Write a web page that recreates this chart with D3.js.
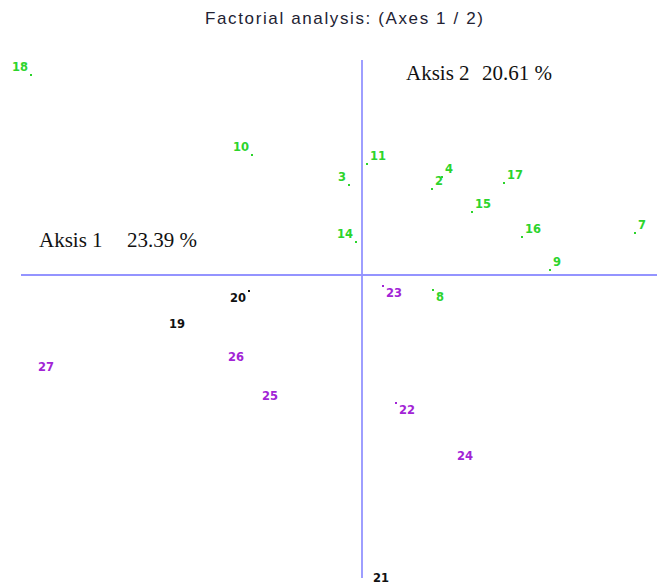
<!DOCTYPE html>
<html>
<head>
<meta charset="utf-8">
<script src="https://cdn.jsdelivr.net/npm/d3@7"></script>
<style>
  html, body { margin: 0; padding: 0; background: #fff; }
  svg { display: block; }
</style>
</head>
<body>
<svg id="chart" width="657" height="584"></svg>
<script>
// ---- data ----
const labels = ["18","10","3","11","14","2","4","17","15","16","7","9","8","23","22","24","21","20","19","26","27","25"];
const axis1  = [-3.31,-1.10,-0.13,0.05,-0.06,0.70,0.80,1.42,1.10,1.60,2.73,1.88,0.71,0.21,0.34,0.92,0.08,-1.13,-1.74,-1.15,-3.05,-0.81];
const axis2  = [2.00,1.20,0.90,1.11,0.33,0.86,0.98,0.92,0.63,0.38,0.42,0.05,-0.15,-0.11,-1.28,-1.74,-2.96,-0.16,-0.42,-0.75,-0.85,-1.14];
const groups = ["g","g","g","g","g","g","g","g","g","g","g","g","g","p","p","p","k","k","k","p","p","p"];
const unmarked = ["19","26","27","25","24","21"];
const titleText = "Factorial analysis: (Axes 1 / 2)";
const axisNames = ["Aksis 1", "Aksis 2"];
const axisInertia = ["23.39 %", "20.61 %"];

const colors = { g: "#2cd42c", p: "#a224d6", k: "#111111" };

const svg = d3.select("#chart");
const x = d3.scaleLinear().domain([-3.41, 2.95]).range([21, 657]);
const y = d3.scaleLinear().domain([-3.03, 2.15]).range([578, 60]);

// title
svg.append("text")
  .attr("x", 205).attr("y", 24)
  .attr("textLength", 278).attr("lengthAdjust", "spacing")
  .attr("font-family", "Liberation Sans, Arial, sans-serif")
  .attr("font-size", 17)
  .attr("fill", "#222233")
  .text(titleText);

// axes lines
svg.append("line")
  .attr("x1", x(-3.41)).attr("x2", x(2.95))
  .attr("y1", y(0)).attr("y2", y(0))
  .attr("stroke", "#9494ff").attr("stroke-width", 1.8);
svg.append("line")
  .attr("x1", x(0)).attr("x2", x(0))
  .attr("y1", y(2.15)).attr("y2", y(-3.03))
  .attr("stroke", "#9494ff").attr("stroke-width", 1.8);

// axis names
const serif = "Liberation Serif, Times New Roman, serif";
svg.append("text").attr("x", 39).attr("y", 247).attr("font-family", serif).attr("font-size", 21).attr("fill", "#111").text(axisNames[0]);
svg.append("text").attr("x", 127).attr("y", 247).attr("font-family", serif).attr("font-size", 21).attr("fill", "#111").text(axisInertia[0]);
svg.append("text").attr("x", 406).attr("y", 80).attr("font-family", serif).attr("font-size", 21).attr("fill", "#111").text(axisNames[1]);
svg.append("text").attr("x", 482).attr("y", 80).attr("font-family", serif).attr("font-size", 21).attr("fill", "#111").text(axisInertia[1]);

const pts = labels.map((l, i) => ({ id: l, a: axis1[i], b: axis2[i], g: groups[i] }));

// dots
svg.append("g").selectAll("rect")
  .data(pts.filter(d => !unmarked.includes(d.id)))
  .join("rect")
  .attr("x", d => x(d.a) - 1).attr("y", d => y(d.b) - 1)
  .attr("width", 2).attr("height", 2)
  .attr("fill", d => colors[d.g]);

// labels, placed outward from the origin
svg.append("g").selectAll("text")
  .data(pts)
  .join("text")
  .attr("x", d => d.a >= 0 ? x(d.a) + 3 : x(d.a) - 3)
  .attr("y", d => d.b >= 0 ? y(d.b) - 4 : y(d.b) + 11)
  .attr("text-anchor", d => d.a >= 0 ? "start" : "end")
  .attr("font-family", "DejaVu Sans, Verdana, sans-serif")
  .attr("font-weight", "bold")
  .attr("font-size", 11.5)
  .attr("fill", d => colors[d.g])
  .text(d => d.id);
</script>
</body>
</html>
